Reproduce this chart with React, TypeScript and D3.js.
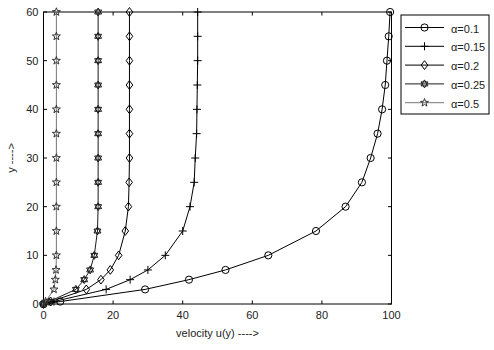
import React from "react";
import * as d3 from "d3";

const yLevels = [0, 0.5, 3, 5, 7, 10, 15, 20, 25, 30, 35, 40, 45, 50, 55, 60];
const alphaLabels = ["α=0.1", "α=0.15", "α=0.2", "α=0.25", "α=0.5"];
const u01 = [0, 4.8, 29.2, 41.8, 52.3, 64.6, 78.3, 86.8, 91.5, 94.0, 96.0, 97.3, 98.2, 98.7, 99.2, 99.6];
const u015 = [0, 3.0, 18.0, 24.9, 30.0, 35.0, 40.0, 42.1, 43.3, 43.6, 44.0, 44.1, 44.2, 44.3, 44.3, 44.3];
const u02 = [0, 2.1, 12.3, 16.5, 19.2, 21.6, 23.5, 24.4, 24.6, 24.7, 24.7, 24.7, 24.7, 24.7, 24.7, 24.7];
const u025 = [0, 1.6, 9.3, 11.7, 13.4, 14.6, 15.5, 15.7, 15.7, 15.7, 15.7, 15.7, 15.7, 15.7, 15.7, 15.7];
const u05 = [0, 0.6, 3.0, 3.4, 3.6, 3.7, 3.7, 3.7, 3.7, 3.7, 3.7, 3.7, 3.7, 3.7, 3.7, 3.7];
const xTicks = [0, 20, 40, 60, 80, 100];
const yTicks = [0, 10, 20, 30, 40, 50, 60];

const seriesU = [u01, u015, u02, u025, u05];
const markers = ["circle", "plus", "diamond", "hexagram", "star"];
const lineColors = ["#000", "#000", "#000", "#1a1a1a", "#777"];
const markColors = ["#000", "#000", "#000", "#1a1a1a", "#333"];

const W = 494, H = 350;
const left = 43.5, right = 391.5, top = 12, bottom = 304;

const x = d3.scaleLinear().domain([0, 100]).range([left, right]);
const y = d3.scaleLinear().domain([0, 60]).range([bottom, top]);

function markerPath(type: string): string {
  const p = d3.path();
  if (type === "circle") {
    const r = 3.6;
    p.moveTo(r, 0);
    p.arc(0, 0, r, 0, Math.PI * 2);
  } else if (type === "plus") {
    const r = 4;
    p.moveTo(-r, 0); p.lineTo(r, 0);
    p.moveTo(0, -r); p.lineTo(0, r);
  } else if (type === "diamond") {
    const w = 3.3, h = 4.4;
    p.moveTo(0, -h); p.lineTo(w, 0); p.lineTo(0, h); p.lineTo(-w, 0); p.closePath();
  } else if (type === "hexagram") {
    const R = 4;
    for (let t = 0; t < 2; t++) {
      for (let i = 0; i < 3; i++) {
        const a = -Math.PI / 2 + t * Math.PI + i * (2 * Math.PI / 3);
        const px = R * Math.cos(a), py = R * Math.sin(a);
        if (i === 0) p.moveTo(px, py); else p.lineTo(px, py);
      }
      p.closePath();
    }
  } else if (type === "star") {
    const R = 4.2, r = 1.7;
    for (let i = 0; i < 10; i++) {
      const a = -Math.PI / 2 + i * Math.PI / 5;
      const rr = i % 2 === 0 ? R : r;
      const px = rr * Math.cos(a), py = rr * Math.sin(a);
      if (i === 0) p.moveTo(px, py); else p.lineTo(px, py);
    }
    p.closePath();
  }
  return p.toString();
}

const font = "'Liberation Sans', Arial, sans-serif";

export default function App() {
  const line = d3.line<[number, number]>().x(d => x(d[0])).y(d => y(d[1]));
  return (
    <svg width={W} height={H} style={{ position: "absolute", left: 0, top: 0, background: "#fff" }}>
      <rect x={0} y={0} width={W} height={H} fill="#fff" />
      <rect x={left} y={top} width={right - left} height={bottom - top} fill="#fff" stroke="#000" strokeWidth={1} />
      {xTicks.map(t => (
        <g key={"xt" + t}>
          <line x1={x(t)} x2={x(t)} y1={bottom} y2={bottom - 3.5} stroke="#000" />
          <line x1={x(t)} x2={x(t)} y1={top} y2={top + 3.5} stroke="#000" />
          <text x={x(t)} y={bottom + 15} textAnchor="middle" fontFamily={font} fontSize={11} fill="#222">{t}</text>
        </g>
      ))}
      {yTicks.map(t => (
        <g key={"yt" + t}>
          <line x1={left} x2={left + 3.5} y1={y(t)} y2={y(t)} stroke="#000" />
          <line x1={right} x2={right - 3.5} y1={y(t)} y2={y(t)} stroke="#000" />
          <text x={left - 5} y={y(t) + 4} textAnchor="end" fontFamily={font} fontSize={11} fill="#222">{t}</text>
        </g>
      ))}
      {seriesU.map((us, si) => {
        const pts: [number, number][] = us.map((u, i) => [u, yLevels[i]]);
        const mp = markerPath(markers[si]);
        return (
          <g key={"s" + si}>
            <path d={line(pts) || ""} fill="none" stroke={lineColors[si]} strokeWidth={1} />
            {pts.map((d, i) => (
              <path key={i} d={mp} transform={`translate(${x(d[0])},${y(d[1])})`} fill="none" stroke={markColors[si]} strokeWidth={1} />
            ))}
          </g>
        );
      })}
      <text x={(left + right) / 2} y={337} textAnchor="middle" fontFamily={font} fontSize={11} fill="#222">velocity u(y) ----&gt;</text>
      <text transform={`translate(15,158) rotate(-90)`} textAnchor="middle" fontFamily={font} fontSize={11} fill="#222">y ----&gt;</text>
      <rect x={401} y={15} width={88} height={99} fill="#fff" stroke="#000" strokeWidth={1} />
      {alphaLabels.map((lab, i) => {
        const ly = 27.5 + i * 18.8;
        return (
          <g key={"lg" + i}>
            <line x1={405} x2={444} y1={ly} y2={ly} stroke={lineColors[i]} strokeWidth={1} />
            <path d={markerPath(markers[i])} transform={`translate(${424.5},${ly})`} fill="none" stroke={markColors[i]} />
            <text x={451} y={ly + 5} fontFamily={font} fontSize={11} fill="#222">{lab}</text>
          </g>
        );
      })}
    </svg>
  );
}
